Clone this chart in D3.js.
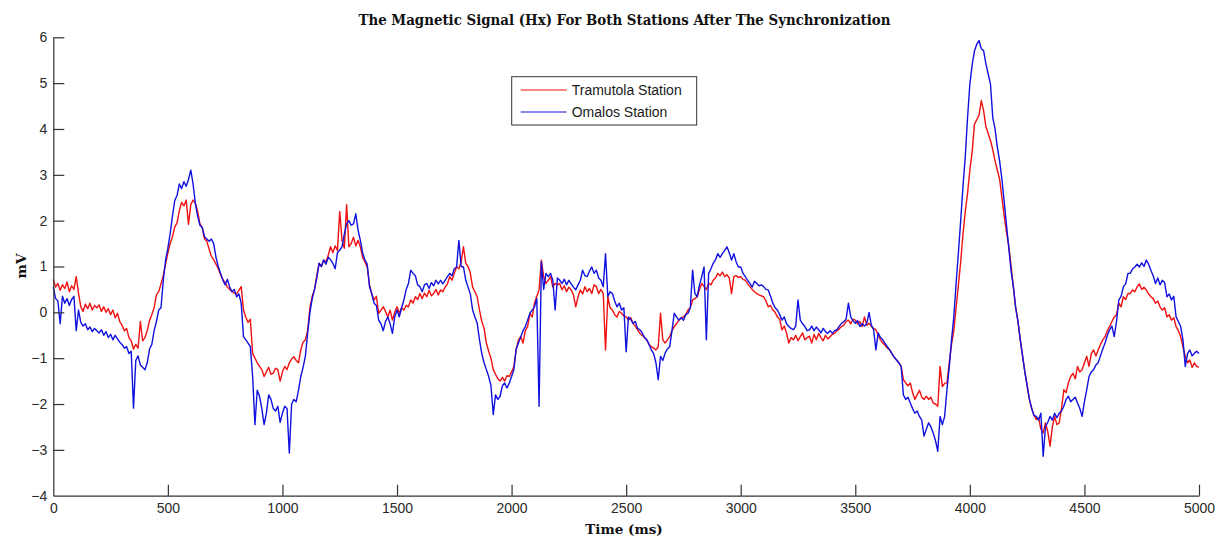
<!DOCTYPE html>
<html>
<head>
<meta charset="utf-8">
<script src="https://cdn.jsdelivr.net/npm/d3@7/dist/d3.min.js"></script>
<style>
  html, body { margin: 0; padding: 0; background: #fff; }
  svg { display: block; }
</style>
</head>
<body>
<svg id="chart" width="1223" height="539"></svg>
<script>
// Hx magnetic signal (mV), sampled every 10 ms from 0 to 5000 ms
const sampleStepMs = 10;

const tramutola = [
  0.72, 0.55, 0.63, 0.48, 0.60, 0.52, 0.66, 0.45, 0.58, 0.50,
  0.78, 0.42, 0.12, 0.02, 0.18, 0.08, 0.20, 0.05, 0.15, 0.10,
  0.16, 0.02, 0.12, 0.00, 0.08, -0.05, 0.05, -0.12, -0.02, -0.20,
  -0.28, -0.40, -0.35, -0.55, -0.62, -0.80, -0.70, -0.78, -0.20, -0.62,
  -0.55, -0.40, -0.18, -0.05, 0.10, 0.38, 0.45, 0.62, 0.80, 1.05,
  1.30, 1.50, 1.65, 1.86, 1.95, 2.22, 2.40, 2.32, 2.45, 1.92,
  2.35, 2.45, 2.38, 2.20, 1.93, 1.85, 1.60, 1.55, 1.38, 1.22,
  1.15, 1.05, 0.95, 0.82, 0.72, 0.65, 0.55, 0.50, 0.45, 0.42,
  0.40, 0.48, 0.56, 0.05, -0.10, -0.22, -0.15, -0.90, -1.00, -1.10,
  -1.18, -1.25, -1.40, -1.30, -1.20, -1.35, -1.33, -1.22, -1.25, -1.50,
  -1.30, -1.18, -1.25, -1.10, -1.02, -0.97, -1.05, -1.10, -0.82, -0.65,
  -0.60, -0.40, 0.10, 0.35, 0.50, 0.80, 1.07, 1.00, 1.14, 1.10,
  1.25, 1.43, 1.30, 1.45, 1.35, 2.20, 1.57, 1.40, 2.35, 1.43,
  1.50, 1.64, 1.45, 1.57, 1.43, 1.20, 1.10, 0.99, 0.60, 0.40,
  0.27, 0.35, -0.02, 0.05, 0.12, 0.02, -0.10, 0.05, -0.17, 0.00,
  0.12, -0.02, 0.10, 0.05, 0.15, 0.12, 0.27, 0.20, 0.34, 0.28,
  0.41, 0.30, 0.42, 0.34, 0.48, 0.36, 0.41, 0.50, 0.38, 0.49,
  0.45, 0.55, 0.62, 0.78, 0.70, 0.85, 0.99, 0.95, 1.10, 1.43,
  1.07, 1.00, 0.85, 0.55, 0.45, 0.34, 0.05, -0.20, -0.35, -0.67,
  -0.85, -1.00, -1.25, -1.35, -1.45, -1.50, -1.42, -1.50, -1.38, -1.40,
  -1.30, -1.18, -0.82, -0.60, -0.53, -0.67, -0.40, -0.31, -0.02, -0.10,
  0.20, 0.35, 0.49, 1.14, 0.78, 0.63, 0.70, 0.78, 0.55, 0.63,
  0.60, 0.63, 0.49, 0.58, 0.45, 0.55, 0.49, 0.38, 0.12, 0.34,
  0.49, 0.40, 0.56, 0.45, 0.52, 0.41, 0.60, 0.56, 0.41, 0.50,
  0.41, -0.82, 0.34, 0.10, 0.05, -0.05, -0.10, 0.02, -0.02, -0.08,
  -0.10, -0.17, -0.12, -0.24, -0.30, -0.38, -0.46, -0.50, -0.55, -0.60,
  -0.70, -0.75, -0.78, -0.82, -0.75, -0.02, -0.60, -0.67, -0.60, -0.53,
  -0.40, -0.31, -0.25, -0.17, -0.12, -0.10, -0.05, 0.05, 0.10, 0.27,
  0.30, 0.34, 0.50, 0.63, 0.56, 0.50, 0.63, 0.60, 0.70, 0.75,
  0.85, 0.80, 0.88, 0.78, 0.82, 0.75, 0.41, 0.78, 0.80, 0.76,
  0.78, 0.72, 0.70, 0.62, 0.56, 0.50, 0.45, 0.41, 0.38, 0.36,
  0.34, 0.25, 0.12, 0.15, 0.05, 0.00, -0.10, -0.15, -0.38, -0.30,
  -0.45, -0.67, -0.55, -0.60, -0.50, -0.62, -0.53, -0.45, -0.60, -0.55,
  -0.52, -0.67, -0.48, -0.60, -0.46, -0.55, -0.62, -0.50, -0.58, -0.53,
  -0.48, -0.46, -0.40, -0.36, -0.31, -0.28, -0.20, -0.17, -0.25, -0.15,
  -0.17, -0.25, -0.20, -0.31, -0.10, -0.28, -0.24, -0.30, -0.35, -0.38,
  -0.50, -0.60, -0.67, -0.72, -0.78, -0.82, -0.90, -0.98, -1.04, -1.10,
  -1.18, -1.47, -1.54, -1.60, -1.54, -1.75, -1.90, -1.80, -1.70, -1.85,
  -1.90, -1.83, -1.90, -1.85, -1.98, -2.00, -2.05, -1.18, -1.62, -1.55,
  -1.54, -1.10, -0.70, -0.40, 0.10, 0.60, 1.10, 1.71, 2.20, 2.60,
  3.10, 3.50, 4.10, 4.20, 4.30, 4.62, 4.40, 4.05, 3.90, 3.75,
  3.55, 3.30, 3.10, 2.90, 2.50, 2.10, 1.75, 1.45, 1.00, 0.55,
  0.10, -0.20, -0.60, -0.95, -1.30, -1.60, -1.90, -2.10, -2.25, -2.34,
  -2.30, -2.55, -2.63, -2.41, -2.60, -2.92, -2.50, -2.27, -2.45, -2.41,
  -2.10, -1.69, -1.75, -1.54, -1.40, -1.33, -1.45, -1.18, -1.30, -1.25,
  -1.10, -0.96, -1.18, -0.90, -0.82, -0.95, -0.82, -0.70, -0.60, -0.53,
  -0.40, -0.31, -0.20, -0.10, -0.05, 0.20, 0.12, 0.34, 0.28, 0.41,
  0.41, 0.49, 0.45, 0.56, 0.62, 0.50, 0.55, 0.49, 0.40, 0.34,
  0.30, 0.20, 0.25, 0.12, 0.05, 0.10, -0.10, -0.05, -0.17, -0.12,
  -0.31, -0.40, -0.53, -0.75, -0.96, -1.10, -1.04, -1.20, -1.10, -1.18,
  -1.20
];

const omalos = [
  0.55, 0.30, 0.25, -0.25, 0.35, 0.20, 0.30, 0.15, 0.28, 0.35,
  -0.40, 0.05, -0.22, -0.30, -0.25, -0.38, -0.32, -0.42, -0.35, -0.40,
  -0.45, -0.38, -0.50, -0.42, -0.55, -0.48, -0.60, -0.50, -0.58, -0.65,
  -0.70, -0.78, -0.75, -0.90, -0.85, -2.09, -1.05, -0.95, -1.15, -1.20,
  -1.25, -1.10, -0.80, -0.70, -0.40, -0.20, 0.05, 0.10, 0.70, 1.14,
  1.40, 1.72, 2.10, 2.44, 2.55, 2.80, 2.70, 2.85, 2.75, 2.90,
  3.10, 2.80, 2.37, 2.10, 1.90, 1.85, 1.65, 1.60, 1.55, 1.60,
  1.50, 1.20, 1.00, 0.85, 0.70, 0.60, 0.72, 0.55, 0.45, 0.50,
  0.34, 0.40, 0.20, -0.53, -0.60, -0.67, -0.75, -1.40, -2.45, -1.70,
  -1.83, -2.10, -2.45, -2.20, -1.80, -1.90, -2.10, -2.15, -2.05, -2.40,
  -2.20, -2.05, -2.10, -3.07, -2.00, -1.90, -1.95, -1.70, -1.40, -1.20,
  -0.96, -0.45, 0.00, 0.30, 0.50, 0.75, 1.07, 1.00, 1.14, 1.05,
  1.20, 1.15, 1.07, 0.95, 1.30, 1.36, 1.43, 1.70, 1.93, 2.00,
  1.90, 1.93, 2.15, 1.80, 1.57, 1.30, 1.14, 1.05, 0.56, 0.40,
  0.20, 0.15, -0.17, -0.25, -0.40, -0.20, -0.10, -0.25, -0.46, -0.10,
  0.05, -0.10, 0.10, 0.27, 0.50, 0.63, 0.92, 0.85, 0.80, 0.60,
  0.56, 0.45, 0.60, 0.63, 0.52, 0.65, 0.58, 0.70, 0.62, 0.70,
  0.62, 0.70, 0.78, 0.85, 0.80, 0.95, 0.99, 1.57, 1.00, 0.99,
  0.70, 0.55, 0.40, 0.05, -0.10, -0.24, -0.60, -0.90, -1.10, -1.25,
  -1.40, -1.60, -2.23, -1.80, -1.90, -1.83, -1.60, -1.54, -1.65, -1.54,
  -1.40, -1.25, -0.80, -0.67, -0.53, -0.40, -0.31, -0.17, -0.02, 0.05,
  0.12, 0.30, -2.05, 1.10, 0.50, 0.85, 0.78, 0.85, 0.70, 0.05,
  0.75, 0.70, 0.63, 0.72, 0.60, 0.70, 0.62, 0.55, 0.49, 0.60,
  0.70, 0.92, 0.80, 0.78, 0.90, 0.99, 0.85, 0.92, 0.75, 0.70,
  0.56, 1.28, 0.34, 0.45, 0.41, 0.25, 0.12, 0.20, 0.05, 0.10,
  -0.86, -0.10, -0.15, -0.24, -0.20, -0.35, -0.38, -0.45, -0.55, -0.60,
  -0.70, -0.82, -0.90, -1.10, -1.47, -0.96, -1.05, -0.89, -0.80, -0.75,
  -0.40, -0.02, -0.10, -0.17, -0.12, -0.17, -0.05, -0.02, 0.10, 0.92,
  0.41, 0.34, 0.60, 0.78, 0.99, -0.60, 0.85, 0.95, 1.07, 1.15,
  1.28, 1.20, 1.28, 1.35, 1.43, 1.30, 1.14, 1.28, 1.10, 0.99,
  0.99, 0.85, 0.78, 0.70, 0.63, 0.55, 0.68, 0.63, 0.58, 0.60,
  0.56, 0.50, 0.49, 0.35, 0.20, 0.10, 0.05, -0.05, -0.17, -0.10,
  -0.25, -0.31, -0.35, -0.38, -0.30, 0.27, -0.17, -0.25, -0.31, -0.40,
  -0.38, -0.30, -0.40, -0.32, -0.38, -0.45, -0.35, -0.42, -0.46, -0.40,
  -0.46, -0.40, -0.38, -0.30, -0.24, -0.20, -0.15, 0.20, -0.10, -0.18,
  -0.24, -0.18, -0.31, -0.25, -0.30, -0.24, 0.00, -0.28, -0.38, -0.82,
  -0.45, -0.55, -0.60, -0.68, -0.75, -0.82, -0.90, -0.98, -1.04, -1.10,
  -1.18, -1.80, -1.90, -1.85, -1.98, -2.10, -2.20, -2.15, -2.27, -2.35,
  -2.70, -2.55, -2.41, -2.50, -2.63, -2.80, -3.03, -2.27, -2.45, -2.27,
  -1.69, -1.20, -0.60, -0.10, 0.63, 1.30, 2.00, 2.75, 3.40, 4.25,
  4.98, 5.40, 5.70, 5.85, 5.93, 5.75, 5.71, 5.42, 5.20, 4.98,
  4.25, 4.00, 3.60, 3.30, 2.90, 2.40, 1.90, 1.40, 0.90, 0.55,
  0.10, -0.20, -0.60, -0.95, -1.30, -1.60, -1.90, -2.10, -2.25, -2.27,
  -2.35, -2.20, -3.14, -2.49, -2.40, -2.27, -2.35, -2.20, -2.30, -2.20,
  -2.15, -2.05, -1.90, -1.83, -1.95, -1.90, -1.85, -1.98, -2.10, -2.27,
  -1.95, -1.69, -1.40, -1.30, -1.25, -1.15, -1.10, -0.95, -0.80, -0.67,
  -0.50, -0.38, -0.30, -0.53, -0.20, 0.27, 0.35, 0.56, 0.62, 0.85,
  0.85, 0.95, 0.99, 1.05, 0.99, 1.08, 1.00, 1.14, 1.05, 0.92,
  0.80, 0.63, 0.75, 0.60, 0.70, 0.65, 0.34, 0.40, 0.27, 0.35,
  -0.10, -0.20, -0.31, -0.60, -1.18, -0.90, -0.82, -0.95, -0.89, -0.85,
  -0.90
];

const seriesNames = ["Tramutola Station", "Omalos Station"];
const seriesColors = ["#f01010", "#1010e0"];
const xTicks = [0, 500, 1000, 1500, 2000, 2500, 3000, 3500, 4000, 4500, 5000];
const yTicks = [-4, -3, -2, -1, 0, 1, 2, 3, 4, 5, 6];

const svg = d3.select("#chart");
const margin = { left: 53.3, right: 1223 - 1199, top: 37.3, bottom: 539 - 495.7 };
const width = 1223 - margin.left - margin.right;
const height = 539 - margin.top - margin.bottom;

const x = d3.scaleLinear().domain([0, 5000]).range([0, width]);
const y = d3.scaleLinear().domain([-4, 6]).range([height, 0]);

const g = svg.append("g").attr("transform", `translate(${margin.left},${margin.top})`);

// Plot traces: Tramutola first, Omalos drawn over it
const line = d3.line()
  .x((d, i) => x(i * sampleStepMs))
  .y(d => y(d));

[tramutola, omalos].forEach((vals, k) => {
  g.append("path")
    .datum(vals)
    .attr("fill", "none")
    .attr("stroke", seriesColors[k])
    .attr("stroke-width", 1.4)
    .attr("stroke-linejoin", "round")
    .attr("d", line);
});

// Axes with inward ticks
const axisColor = "#333";
const xAxis = g.append("g")
  .attr("transform", `translate(0,${height})`)
  .call(d3.axisBottom(x).tickValues(xTicks).tickFormat(d3.format("d"))
    .tickSizeInner(-11).tickSizeOuter(0).tickPadding(7));
const yAxis = g.append("g")
  .call(d3.axisLeft(y).tickValues(yTicks).tickFormat(d3.format("d"))
    .tickSizeInner(-11).tickSizeOuter(0).tickPadding(6));

[xAxis, yAxis].forEach(ax => {
  ax.select(".domain").attr("stroke", axisColor).attr("stroke-width", 1.2);
  ax.selectAll(".tick line").attr("stroke", axisColor).attr("stroke-width", 1.2);
  ax.selectAll(".tick text")
    .attr("fill", "#2a2a2a")
    .style("font-family", "'Liberation Sans', Arial, sans-serif")
    .style("font-size", "14px");
});
xAxis.selectAll(".tick").filter(d => d === 0).select("line").remove();
yAxis.selectAll(".tick").filter(d => d === -4).select("line").remove();

// Title and axis labels
svg.append("text")
  .attr("x", 624.5)
  .attr("y", 25)
  .attr("text-anchor", "middle")
  .attr("textLength", 532)
  .attr("lengthAdjust", "spacingAndGlyphs")
  .style("font-family", "'DejaVu Serif', 'Liberation Serif', serif")
  .style("font-weight", "bold")
  .style("font-size", "14px")
  .attr("fill", "#111")
  .text("The Magnetic Signal (Hx) For Both Stations After The Synchronization");

svg.append("text")
  .attr("x", 624)
  .attr("y", 534)
  .attr("text-anchor", "middle")
  .style("font-family", "'DejaVu Serif', 'Liberation Serif', serif")
  .style("font-weight", "bold")
  .style("font-size", "13.5px")
  .attr("fill", "#111")
  .text("Time (ms)");

svg.append("text")
  .attr("transform", "translate(26,266) rotate(-90)")
  .attr("text-anchor", "middle")
  .style("font-family", "'DejaVu Serif', 'Liberation Serif', serif")
  .style("font-weight", "bold")
  .style("font-size", "13.5px")
  .attr("fill", "#111")
  .text("mV");

// Legend
const legend = svg.append("g").attr("transform", "translate(511.7,76.7)");
legend.append("rect")
  .attr("width", 185)
  .attr("height", 48.3)
  .attr("fill", "#fff")
  .attr("stroke", "#333")
  .attr("stroke-width", 1);
seriesNames.forEach((name, i) => {
  const cy = 13.3 + i * 22;
  legend.append("line")
    .attr("x1", 9).attr("x2", 55)
    .attr("y1", cy).attr("y2", cy)
    .attr("stroke", seriesColors[i])
    .attr("stroke-width", 1);
  legend.append("text")
    .attr("x", 60)
    .attr("y", cy)
    .attr("dy", "0.36em")
    .style("font-family", "'Liberation Sans', Arial, sans-serif")
    .style("font-size", "14px")
    .attr("fill", "#1a1a1a")
    .text(name);
});
</script>
</body>
</html>
